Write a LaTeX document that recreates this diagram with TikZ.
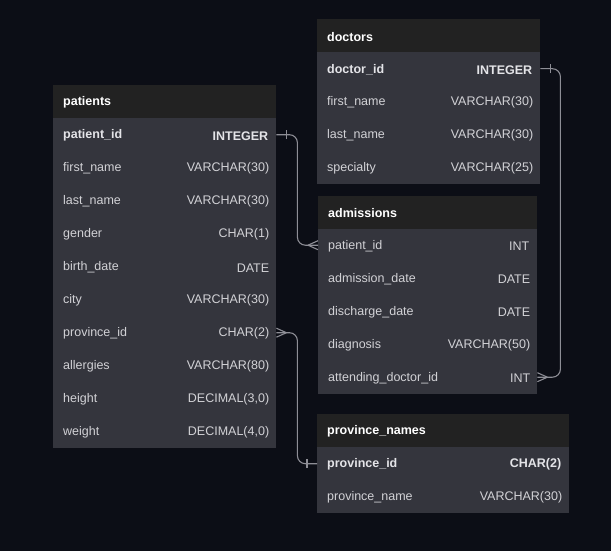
\documentclass[tikz,border=0pt]{standalone}
\usepackage{fontspec}
\setmainfont{Liberation Sans}
\definecolor{bgc}{HTML}{0C0E16}
\definecolor{hdrc}{HTML}{222222}
\definecolor{bodyc}{HTML}{34353D}
\definecolor{txtc}{HTML}{D2D2D6}
\definecolor{keyc}{HTML}{E4E4E8}
\definecolor{linec}{HTML}{8E8E96}
\tikzset{
  hdrbox/.style={fill=hdrc, draw=none, minimum height=33pt, inner sep=0pt, anchor=north west},
  rowbox/.style={fill=bodyc, draw=none, minimum height=33pt, inner sep=0pt, anchor=north west},
  htext/.style={anchor=west, inner sep=0pt, yshift=-1pt, text=white, font=\fontsize{12.5}{15}\selectfont\bfseries},
  ntext/.style={anchor=west, inner sep=0pt, yshift=-1pt, text=txtc, font=\fontsize{12.5}{15}\selectfont},
  ttext/.style={anchor=east, inner sep=0pt, yshift=-1pt, text=txtc, font=\fontsize{12.5}{15}\selectfont},
  keyrow/.style={text=keyc, font=\fontsize{12.5}{15}\selectfont\bfseries},
  plainrow/.style={},
  conn/.style={draw=linec, line width=1.1pt, rounded corners=8pt},
  relmark/.style={draw=linec, line width=1.1pt},
}
% #1 name, #2 x, #3 top y, #4 width, #5 title, #6 style of first row, #7 rows
\newcommand\dbtable[7]{%
  \node[hdrbox, minimum width=#4] (#1-h) at (#2,#3) {};
  \node[htext] (#1-ht) at ([xshift=10pt]#1-h.west) {#5};
  \foreach \nm/\ty [count=\i] in {#7} {
    \node[rowbox, minimum width=#4] (#1-\i) at (#2,{#3+33*\i}) {};
    \ifnum\i=1
      \node[ntext, #6] (#1-\i n) at ([xshift=10pt]#1-\i.west) {\nm};
      \node[ttext, #6] (#1-\i t) at ([xshift=-8pt]#1-\i.east) {\ty};
    \else
      \node[ntext] (#1-\i n) at ([xshift=10pt]#1-\i.west) {\nm};
      \node[ttext] (#1-\i t) at ([xshift=-7pt]#1-\i.east) {\ty};
    \fi
  }%
}
\begin{document}
\begin{tikzpicture}[x=1pt,y=-1pt]
\fill[bgc] (0,0) rectangle (611,551);
\useasboundingbox (0,0) rectangle (611,551);

\dbtable{pat}{53}{85}{223pt}{patients}{keyrow}{patient\_id/INTEGER, first\_name/VARCHAR(30), last\_name/VARCHAR(30), gender/CHAR(1), birth\_date/DATE, city/VARCHAR(30), province\_id/CHAR(2), allergies/VARCHAR(80), height/{DECIMAL(3,0)}, weight/{DECIMAL(4,0)}}

\dbtable{doc}{317}{19}{223pt}{doctors}{keyrow}{doctor\_id/INTEGER, first\_name/VARCHAR(30), last\_name/VARCHAR(30), specialty/VARCHAR(25)}

\dbtable{adm}{318}{195.5}{219pt}{admissions}{plainrow}{patient\_id/INT, admission\_date/DATE, discharge\_date/DATE, diagnosis/VARCHAR(50), attending\_doctor\_id/INT}

\dbtable{prov}{317}{414}{252pt}{province\_names}{keyrow}{province\_id/CHAR(2), province\_name/VARCHAR(30)}

% patients.patient_id -> admissions.patient_id
\draw[conn] (pat-1.east) -- ++(21,0) |- (adm-1.west);
\draw[relmark] ([xshift=10pt,yshift=-4.5pt]pat-1.east) -- ([xshift=10pt,yshift=4.5pt]pat-1.east);
\draw[relmark] ([xshift=-10pt]adm-1.west) -- ([yshift=-4.5pt]adm-1.west)
            ([xshift=-10pt]adm-1.west) -- ([yshift=4.5pt]adm-1.west);

% doctors.doctor_id -> admissions.attending_doctor_id
\draw[conn] (doc-1.east) -- ++(20,0) |- (adm-5.east);
\draw[relmark] ([xshift=10pt,yshift=-4.5pt]doc-1.east) -- ([xshift=10pt,yshift=4.5pt]doc-1.east);
\draw[relmark] ([xshift=10pt]adm-5.east) -- ([yshift=-4.5pt]adm-5.east)
            ([xshift=10pt]adm-5.east) -- ([yshift=4.5pt]adm-5.east);

% patients.province_id -> province_names.province_id
\draw[conn] (pat-7.east) -- ++(21,0) |- (prov-1.west);
\draw[relmark] ([xshift=10pt]pat-7.east) -- ([yshift=-4.5pt]pat-7.east)
            ([xshift=10pt]pat-7.east) -- ([yshift=4.5pt]pat-7.east);
\draw[relmark] ([xshift=-10pt,yshift=-4.5pt]prov-1.west) -- ([xshift=-10pt,yshift=4.5pt]prov-1.west);
\end{tikzpicture}
\end{document}
